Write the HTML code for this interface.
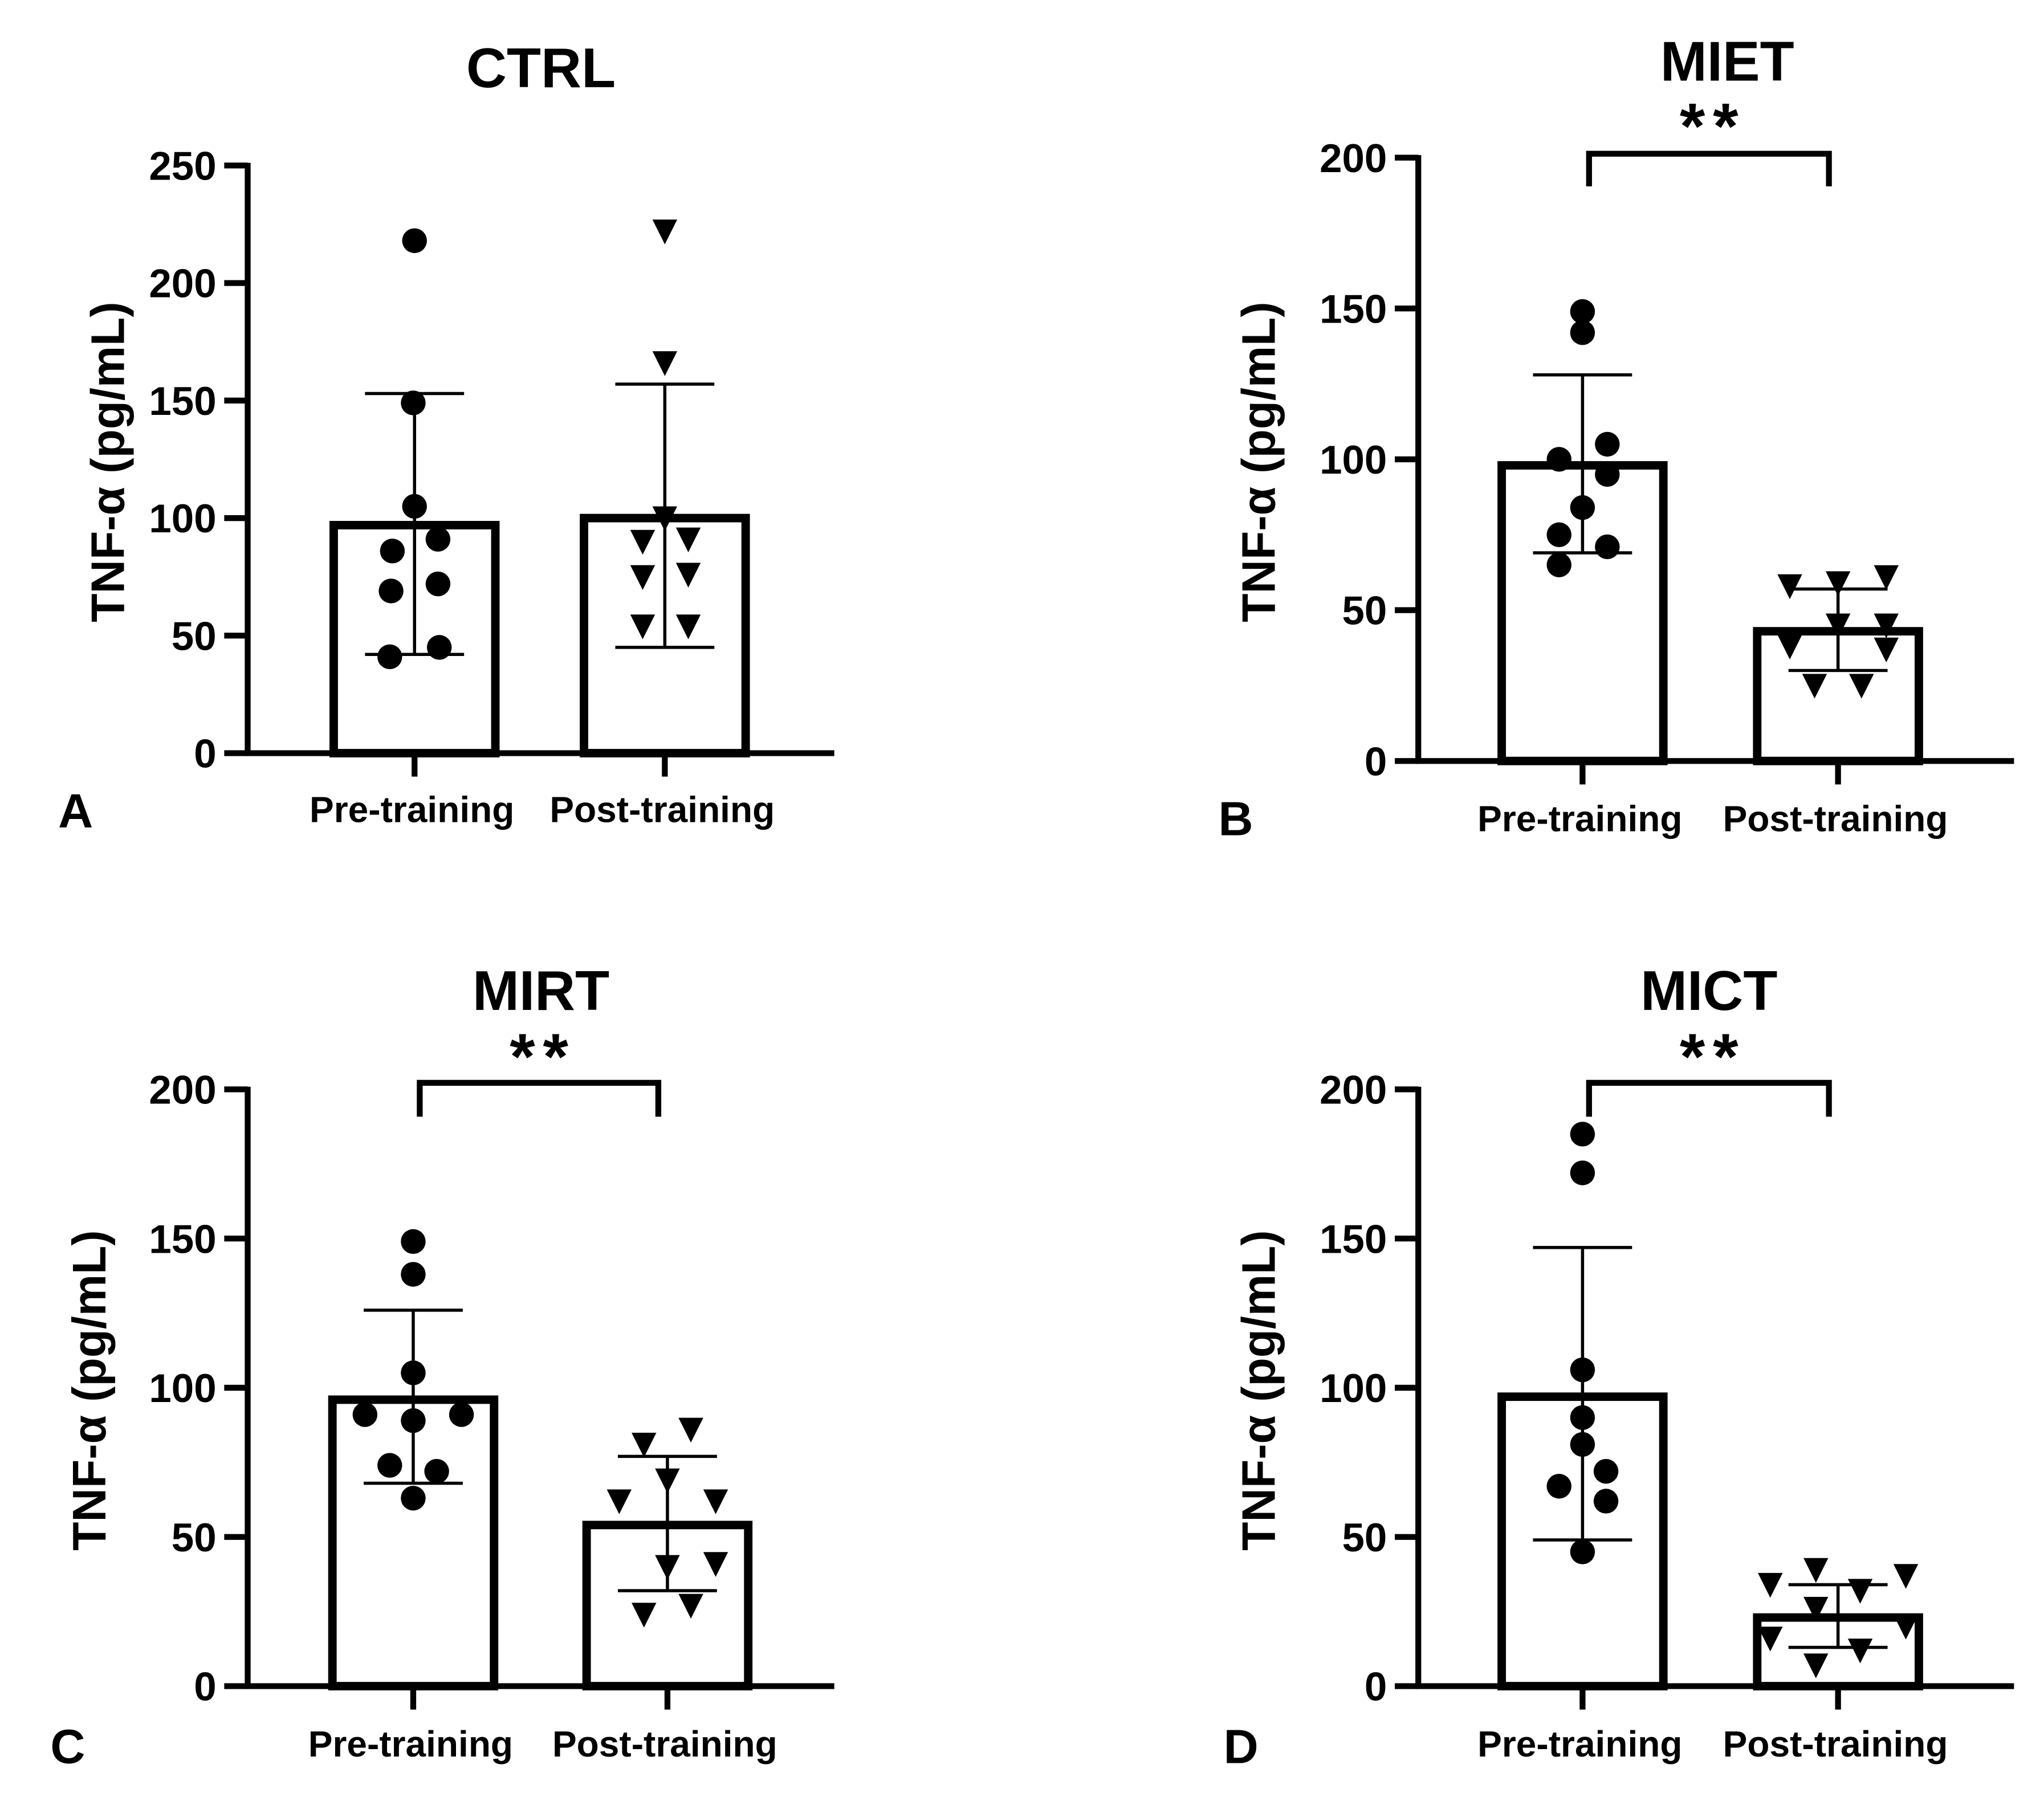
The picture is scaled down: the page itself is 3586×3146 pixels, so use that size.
<!DOCTYPE html>
<html><head><meta charset="utf-8"><style>
html,body{margin:0;padding:0;background:#fff;}
svg{display:block;}
text{font-family:"Liberation Sans",Arial,sans-serif;font-weight:bold;fill:#000;}
</style></head>
<body>
<svg id="fig" width="3586" height="3146" viewBox="0 0 1568 1376" preserveAspectRatio="none" xmlns="http://www.w3.org/2000/svg"></svg>
<script>
// ---- data ----
const categories = ["Pre-training", "Post-training"];
const panelTitles = ["CTRL", "MIET", "MIRT", "MICT"];
const panelLetters = ["A", "B", "C", "D"];
const yMaxes = [250, 200, 200, 200];
const yTicksA = [0, 50, 100, 150, 200, 250];
const yTicksBCD = [0, 50, 100, 150, 200];
const barMeans = [[97, 100], [98, 43], [96, 54], [97, 23]];
const errLow = [[42, 45], [69, 30], [68, 32], [49, 13]];
const errHigh = [[153, 157], [128, 57], [126, 77], [147, 34]];
const ptsPreA = [218, 149, 105, 91, 86, 72, 69, 45, 41];
const ptsPostA = [222, 166, 100, 91, 90, 76, 75, 54, 54];
const ptsPreB = [149, 142, 105, 100, 95, 84, 75, 71, 65];
const ptsPostB = [58, 59, 61, 45, 45, 38, 37, 25, 25];
const ptsPreC = [149, 138, 105, 91, 89, 91, 74, 72, 63];
const ptsPostC = [86, 81, 69, 62, 62, 40, 41, 24, 27];
const ptsPreD = [185, 172, 106, 90, 81, 72, 67, 62, 45];
const ptsPostD = [34, 39, 37, 32, 26, 16, 20, 12, 7];
const significance = [null, "**", "**", "**"];

// ---- jitter / layout (not data) ----
const jitPreA = [0, -1, 0, 18, -17, 18, -18, 19, -19];
const jitPostA = [0, 0, 0, 18, -17, 18, -17, 18, -17];
const jitPreB = [0, 0, 19, -18, 19, 0, -18, 19, -18];
const jitPostB = [-37, 0, 37, 0, 37, -37, 37, -18, 18];
const jitPreC = [0, 0, 0, -37, 0, 37, -18, 18, 0];
const jitPostC = [18, -18, 0, -37, 37, 0, 37, -18, 18];
const jitPreD = [0, 0, 0, 0, 0, 18, -18, 18, 0];
const jitPostD = [-52, -17, 52, 17, -17, -52, 52, 17, -17];

const layout = [
  {ax:190, y0:578, yTop:127, xEnd:640, c:[318,510], ticks:yTicksA, tx:[415,52], lx:58, ly:622, ylabX:82, labY:621, br:null},
  {ax:1088, y0:584, yTop:121, xEnd:1545, c:[1214,1410], ticks:yTicksBCD, tx:[1325,47], lx:948, ly:628, ylabX:965, labY:628, br:[118,143,92]},
  {ax:190, y0:1294, yTop:836, xEnd:640, c:[317,512], ticks:yTicksBCD, tx:[415,760], lx:52, ly:1340, ylabX:68, labY:1338, br:[831,857,806]},
  {ax:1088, y0:1294, yTop:836, xEnd:1545, c:[1214,1410], ticks:yTicksBCD, tx:[1311,760], lx:952, ly:1340, ylabX:965, labY:1338, br:[831,857,806]}
];
const allPre = [ptsPreA, ptsPreB, ptsPreC, ptsPreD];
const allPost = [ptsPostA, ptsPostB, ptsPostC, ptsPostD];
const allJPre = [jitPreA, jitPreB, jitPreC, jitPreD];
const allJPost = [jitPostA, jitPostB, jitPostC, jitPostD];

const NS = "http://www.w3.org/2000/svg";
const svg = document.getElementById("fig");
function mk(tag, attrs, parent, text) {
  const e = document.createElementNS(NS, tag);
  for (const k in attrs) e.setAttribute(k, attrs[k]);
  if (text !== undefined) e.textContent = text;
  (parent || svg).appendChild(e);
  return e;
}

layout.forEach((L, p) => {
  const g = mk("g", {});
  
  
  const yS = v => L.y0 - (v / yMaxes[p]) * (L.y0 - L.yTop);

  const t = mk("text", {x:L.tx[0], y:L.tx[1]+15, "text-anchor":"middle", "font-size":43}, g, panelTitles[p]);
  
  
  const pl = mk("text", {x:L.lx, y:L.ly+13, "text-anchor":"middle", "font-size":37}, g, panelLetters[p]);
  
  

  const ya = mk("line", {x1:L.ax, y1:yS(yMaxes[p])-2, x2:L.ax, y2:L.y0+2, stroke:"#000", "stroke-width":4.5}, g);
  
  
  L.ticks.forEach(v => {
    const tk = mk("line", {x1:L.ax-18, y1:yS(v), x2:L.ax, y2:yS(v), stroke:"#000", "stroke-width":4.5}, g);
    
    
    const tl = mk("text", {x:L.ax-24, y:yS(v)+11, "text-anchor":"end", "font-size":31}, g, String(v));
    
    
  });
  const ycy = (L.y0 + L.yTop) / 2 + 2;
  const yl = mk("text", {x:0, y:0, "text-anchor":"middle", "font-size":36, transform:`translate(${L.ylabX+13},${ycy}) rotate(-90)`}, g, "TNF-α (pg/mL)");
  
  

  categories.forEach((cat, i) => {
    const cx = L.c[i];
    const b = mk("rect", {x:cx-62, y:yS(barMeans[p][i]), width:124, height:L.y0-yS(barMeans[p][i]), fill:"none", stroke:"#000", "stroke-width":6.5}, g);
    
    
  });
  const xa = mk("line", {x1:L.ax-2, y1:L.y0, x2:L.xEnd, y2:L.y0, stroke:"#000", "stroke-width":4.5}, g);
  
  
  categories.forEach((cat, i) => {
    const cx = L.c[i];
    const tk = mk("line", {x1:cx, y1:L.y0, x2:cx, y2:L.y0+18, stroke:"#000", "stroke-width":4.5}, g);
    
    
    const xl = mk("text", {x:cx-2, y:L.labY+10, "text-anchor":"middle", "font-size":28}, g, cat);
    
    
  });

  const pts = [allPre[p], allPost[p]], jit = [allJPre[p], allJPost[p]];
  pts.forEach((arr, i) => {
    arr.forEach((v, k) => {
      const x = L.c[i] + jit[i][k], y = yS(v);
      let m;
      if (i === 0) {
        m = mk("circle", {cx:x, cy:y, r:9.5, fill:"#000"}, g);
        
      } else {
        m = mk("polygon", {points:`${x-9.5},${y-9} ${x+9.5},${y-9} ${x},${y+10}`, fill:"#000"}, g);
        
      }
      
    });
  });

  categories.forEach((cat, i) => {
    const cx = L.c[i];
    const e1 = mk("line", {x1:cx, y1:yS(errLow[p][i]), x2:cx, y2:yS(errHigh[p][i]), stroke:"#000", "stroke-width":2.4}, g);
    
    
    [errLow[p][i], errHigh[p][i]].forEach(v => {
      const cap = mk("line", {x1:cx-38, y1:yS(v), x2:cx+38, y2:yS(v), stroke:"#000", "stroke-width":2.4}, g);
      
      
    });
  });

  if (L.br && significance[p]) {
    const x1 = L.c[0] + 5, x2 = L.c[1] - 7;
    const br = mk("polyline", {points:`${x1},${L.br[1]} ${x1},${L.br[0]} ${x2},${L.br[0]} ${x2},${L.br[1]}`, fill:"none", stroke:"#000", "stroke-width":4.5}, g);
    
    
    const st = mk("text", {x:(x1+x2)/2+3, y:L.br[2]+22, "text-anchor":"middle", "font-size":50, "letter-spacing":"6"}, g, significance[p]);
    
    
  }
});
</script>
</body></html>
